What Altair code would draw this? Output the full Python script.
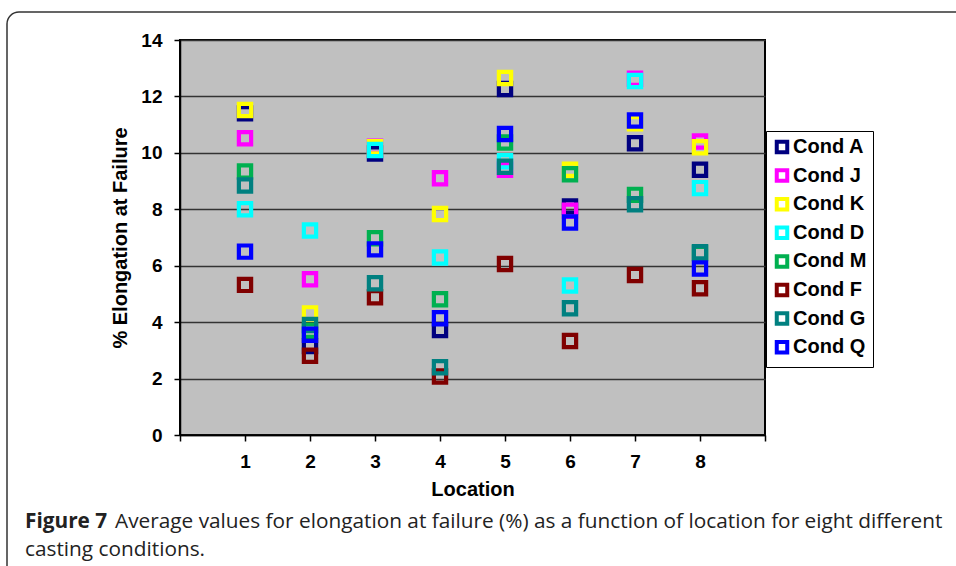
import altair as alt
import pandas as pd

locations = [1, 2, 3, 4, 5, 6, 7, 8]
series_names = ["Cond A", "Cond J", "Cond K", "Cond D", "Cond M", "Cond F", "Cond G", "Cond Q"]
series_colors = ["#000080", "#FF00FF", "#FFFF00", "#00FFFF", "#00B050", "#800000", "#008080", "#0000FF"]

cond_a = [11.40, 3.15, 9.98, 3.72, 12.26, 8.10, 10.34, 9.40]
cond_j = [10.52, 5.52, 10.22, 9.10, 9.40, 7.95, 12.63, 10.40]
cond_k = [11.52, 4.31, 10.20, 7.83, 12.65, 9.40, 11.05, 10.20]
cond_d = [8.00, 7.25, 10.10, 6.29, 9.70, 5.30, 12.55, 8.75]
cond_m = [9.34, 3.70, 6.97, 4.81, 10.37, 9.24, 8.51, 6.45]
cond_f = [5.32, 2.81, 4.88, 2.07, 6.06, 3.33, 5.67, 5.20]
cond_g = [8.84, 3.90, 5.38, 2.40, 9.51, 4.49, 8.18, 6.48]
cond_q = [6.50, 3.55, 6.58, 4.14, 10.67, 7.53, 11.15, 5.90]

y_ticks = [0, 2, 4, 6, 8, 10, 12, 14]
x_ticks = [0, 1, 2, 3, 4, 5, 6, 7, 8, 9]

caption_bold = "Figure 7"
caption_line1 = "Average values for elongation at failure (%) as a function of location for eight different"
caption_line2 = "casting conditions."

all_series = [cond_a, cond_j, cond_k, cond_d, cond_m, cond_f, cond_g, cond_q]
rows = []
for name, vals in zip(series_names, all_series):
    for loc, v in zip(locations, vals):
        rows.append({"Location": loc, "Elongation": v, "Condition": name})
df = pd.DataFrame(rows)

FONT = "Liberation Sans"
CAP_FONT = "Open Sans"
CAP_SIZE = 20.8
W, H = 585, 395

points = alt.Chart(df).mark_point(
    shape="square", filled=False, size=150, strokeWidth=4.2, opacity=1
).encode(
    x=alt.X("Location:Q",
            scale=alt.Scale(domain=[0, 9], nice=False, zero=False),
            axis=alt.Axis(values=x_ticks, title="Location", grid=False,
                          labelExpr="datum.value >= 1 && datum.value <= 8 ? datum.label : ''",
                          tickSize=6, labelPadding=11, titlePadding=8,
                          labelFontSize=19, titleFontSize=20)),
    y=alt.Y("Elongation:Q",
            scale=alt.Scale(domain=[0, 14], nice=False),
            axis=alt.Axis(values=y_ticks, title="% Elongation at Failure", grid=True,
                          tickSize=6, labelPadding=12, titlePadding=10,
                          labelFontSize=19, titleFontSize=20)),
    color=alt.Color("Condition:N",
                    scale=alt.Scale(domain=series_names, range=series_colors),
                    legend=alt.Legend(title=None, orient="none", legendX=586, legendY=91,
                                      symbolType="square", symbolSize=110,
                                      symbolStrokeWidth=4, symbolFillColor="white",
                                      labelFontSize=20, labelFontWeight="bold", labelFont=FONT,
                                      labelColor="black",
                                      rowPadding=0.6, padding=6, labelOffset=1,
                                      strokeColor="black", fillColor="white")),
)

frame = alt.Chart(pd.DataFrame({"k": [0]})).mark_rect(
    fillOpacity=0, stroke="#333333", strokeWidth=1.5, cornerRadius=12
).encode(
    x=alt.value(-173), x2=alt.value(820), y=alt.value(-28), y2=alt.value(580)
)

cap_df = pd.DataFrame({"k": [0]})
cap_b = alt.Chart(cap_df).mark_text(
    text=caption_bold, font=CAP_FONT, fontSize=CAP_SIZE, fontWeight="bold",
    align="left", baseline="alphabetic", color="#222222"
).encode(x=alt.value(-155), y=alt.value(488))
cap_1 = alt.Chart(cap_df).mark_text(
    text=caption_line1, font=CAP_FONT, fontSize=CAP_SIZE,
    align="left", baseline="alphabetic", color="#222222"
).encode(x=alt.value(-65), y=alt.value(488))
cap_2 = alt.Chart(cap_df).mark_text(
    text=caption_line2, font=CAP_FONT, fontSize=CAP_SIZE,
    align="left", baseline="alphabetic", color="#222222"
).encode(x=alt.value(-155), y=alt.value(516))

chart = alt.layer(frame, points, cap_b, cap_1, cap_2).properties(
    width=W, height=H,
    autosize=alt.AutoSizeParams(type="none"),
    padding={"left": 180, "top": 40, "right": 191, "bottom": 131},
    background="white",
).configure_view(
    fill="#C0C0C0", stroke="black", strokeWidth=2
).configure_axis(
    labelFont=FONT, titleFont=FONT, labelFontWeight="bold", titleFontWeight="bold",
    labelColor="black", titleColor="black", domainColor="black", tickColor="black",
    domainWidth=1.5, tickWidth=1.5, gridColor="#333333", gridWidth=1.5,
)

chart.save("out.html", embed_options={"renderer": "svg", "actions": False})
